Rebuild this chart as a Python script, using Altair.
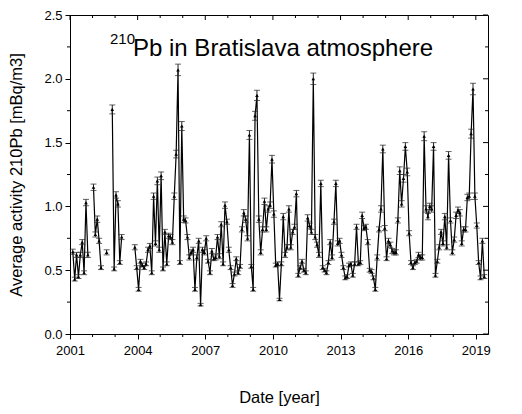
import altair as alt
import pandas as pd

# Monthly average 210Pb activity [mBq/m3] (None = no measurement); 2001 starts in February
act_2001 = [0.645, 0.43, 0.62, 0.45, 0.62, 0.72, 0.48, 1.03, 0.62, None, None]
act_2002 = [1.15, 0.78, 0.90, 0.73, 0.52, None, None, 0.64, None, None, 1.76, 0.51]
act_2003 = [1.09, 1.02, 0.56, 0.76, None, None, None, None, None, None, 0.68, 0.52]
act_2004 = [0.35, 0.57, 0.54, 0.52, 0.55, 0.66, 0.69, 0.48, 1.08, 0.71, 1.20, 0.66]
act_2005 = [1.24, 0.51, 0.80, 0.55, 0.77, 0.76, 0.72, 1.08, 1.41, 2.07, 0.56, 1.63]
act_2006 = [0.90, 0.89, 0.76, 0.60, 0.64, 0.66, 0.35, 0.60, 0.73, 0.23, 0.66, 0.64]
act_2007 = [0.75, 0.57, 0.48, 0.65, 0.59, 0.60, 0.76, 0.61, 0.86, 0.55, 1.01, 0.88]
act_2008 = [0.66, 0.52, 0.38, 0.47, 0.59, 0.48, 0.53, 0.82, 0.95, 0.90, 0.75, 1.56]
act_2009 = [0.53, 0.35, 1.71, 1.87, 0.90, 0.64, 0.82, 1.04, 0.82, 0.98, 1.01, 1.37]
act_2010 = [0.94, 0.54, 0.55, 0.27, 0.55, 0.92, 0.62, 0.68, 0.98, 0.68, 0.80, 0.84]
act_2011 = [1.10, 0.46, 0.52, 0.57, 0.50, 0.48, 0.91, 0.85, 0.80, 2.00, 0.76, 0.70]
act_2012 = [0.62, 1.18, 0.52, 0.50, 0.48, 0.56, 0.72, 0.60, 0.88, 1.18, 0.71, 0.73]
act_2013 = [0.62, 0.52, 0.44, 0.45, 0.54, 0.55, 0.46, 0.55, 0.84, 0.55, 0.56, 0.93]
act_2014 = [0.83, 0.84, 0.72, 0.50, 0.49, 0.44, 0.35, 0.60, 0.82, 0.98, 1.45, 0.83]
act_2015 = [0.59, 0.73, 0.70, 0.65, 0.64, 0.64, 0.89, 1.28, 1.02, 1.22, 1.47, 1.27]
act_2016 = [0.79, 0.56, 0.52, 0.56, 0.57, 0.62, 0.60, 0.60, 1.55, 0.98, 0.92, 1.00]
act_2017 = [0.98, 1.47, 0.46, 0.57, 0.68, 0.80, 0.71, 0.92, 0.68, 1.40, 0.89, 0.64]
act_2018 = [0.74, 0.93, 0.97, 0.95, 0.71, 0.82, 0.82, 1.07, 1.08, 1.57, 1.92, 1.08]
act_2019 = [0.85, 0.56, 0.44, 0.73, 0.45]

# Uncertainty (half-length of error bars)
err_2001 = [0.02, 0.015, 0.02, 0.015, 0.02, 0.02, 0.015, 0.025, 0.02, None, None]
err_2002 = [0.025, 0.02, 0.025, 0.02, 0.015, None, None, 0.02, None, None, 0.035, 0.015]
err_2003 = [0.025, 0.025, 0.015, 0.02, None, None, None, None, None, None, 0.02, 0.015]
err_2004 = [0.015, 0.015, 0.015, 0.015, 0.015, 0.02, 0.02, 0.015, 0.025, 0.02, 0.03, 0.02]
err_2005 = [0.03, 0.015, 0.02, 0.015, 0.02, 0.02, 0.02, 0.025, 0.03, 0.045, 0.015, 0.035]
err_2006 = [0.025, 0.02, 0.02, 0.02, 0.02, 0.02, 0.015, 0.02, 0.02, 0.01, 0.02, 0.02]
err_2007 = [0.02, 0.015, 0.015, 0.02, 0.015, 0.02, 0.02, 0.02, 0.02, 0.015, 0.025, 0.02]
err_2008 = [0.02, 0.015, 0.015, 0.015, 0.015, 0.015, 0.015, 0.02, 0.025, 0.025, 0.02, 0.035]
err_2009 = [0.015, 0.015, 0.035, 0.04, 0.025, 0.02, 0.02, 0.025, 0.02, 0.025, 0.025, 0.03]
err_2010 = [0.025, 0.015, 0.015, 0.01, 0.015, 0.025, 0.02, 0.02, 0.025, 0.02, 0.02, 0.02]
err_2011 = [0.025, 0.015, 0.015, 0.015, 0.015, 0.015, 0.025, 0.02, 0.02, 0.045, 0.02, 0.02]
err_2012 = [0.02, 0.025, 0.015, 0.015, 0.015, 0.015, 0.02, 0.02, 0.02, 0.025, 0.02, 0.02]
err_2013 = [0.02, 0.015, 0.015, 0.015, 0.015, 0.015, 0.015, 0.015, 0.02, 0.015, 0.015, 0.025]
err_2014 = [0.02, 0.02, 0.02, 0.015, 0.015, 0.015, 0.015, 0.02, 0.02, 0.025, 0.03, 0.02]
err_2015 = [0.015, 0.02, 0.02, 0.02, 0.02, 0.02, 0.02, 0.03, 0.025, 0.03, 0.03, 0.03]
err_2016 = [0.02, 0.015, 0.015, 0.015, 0.015, 0.02, 0.02, 0.02, 0.035, 0.025, 0.025, 0.025]
err_2017 = [0.025, 0.03, 0.015, 0.015, 0.02, 0.02, 0.02, 0.025, 0.02, 0.03, 0.02, 0.02]
err_2018 = [0.02, 0.025, 0.025, 0.025, 0.02, 0.02, 0.02, 0.025, 0.025, 0.035, 0.045, 0.025]
err_2019 = [0.02, 0.015, 0.015, 0.02, 0.015]

YEARS = list(range(2001, 2020))
ACT = [act_2001, act_2002, act_2003, act_2004, act_2005, act_2006, act_2007, act_2008,
       act_2009, act_2010, act_2011, act_2012, act_2013, act_2014, act_2015, act_2016,
       act_2017, act_2018, act_2019]
ERR = [err_2001, err_2002, err_2003, err_2004, err_2005, err_2006, err_2007, err_2008,
       err_2009, err_2010, err_2011, err_2012, err_2013, err_2014, err_2015, err_2016,
       err_2017, err_2018, err_2019]
FIRST_MONTH = {2001: 2}

MAJOR_YEARS = [2001, 2004, 2007, 2010, 2013, 2016, 2019]
MINOR_YEARS = [2002, 2003, 2005, 2006, 2008, 2009, 2011, 2012, 2014, 2015, 2017, 2018]
MAJOR_Y = [0.0, 0.5, 1.0, 1.5, 2.0, 2.5]
MINOR_Y = [0.25, 0.75, 1.25, 1.75, 2.25]

rows = []
seg = 0
prev_none = True
for yr, vals, errs in zip(YEARS, ACT, ERR):
    m0 = FIRST_MONTH.get(yr, 1)
    for k, (v, e) in enumerate(zip(vals, errs)):
        month = m0 + k
        if v is None:
            prev_none = True
            continue
        if prev_none:
            seg += 1
            prev_none = False
        rows.append({"t": yr + (month - 0.5) / 12.0, "v": v,
                     "lo": v - e, "hi": v + e, "seg": seg})
df = pd.DataFrame(rows)

W, H = 418, 319
FONT = "Liberation Sans"

xscale = alt.Scale(domain=[2001, 2019.54], nice=False, zero=False)
yscale = alt.Scale(domain=[0, 2.5], nice=False, zero=True)

X = alt.X("t:Q", scale=xscale,
          axis=alt.Axis(values=MAJOR_YEARS, format="d", title="Date [year]",
                        tickSize=5, labelPadding=5, titlePadding=32, grid=False,
                        labelFlush=False))
Y = alt.Y("v:Q", scale=yscale,
          axis=alt.Axis(values=MAJOR_Y, format=".1f",
                        title="Average activity 210Pb [mBq/m3]",
                        tickSize=5, labelPadding=3, titlePadding=19, grid=False,
                        labelFlush=False))

base = alt.Chart(df)
line = base.mark_line(color="black", strokeWidth=1.2).encode(x=X, y=Y, detail="seg:N")
bars = base.mark_rule(color="#222222", strokeWidth=1).encode(
    x=X, y=alt.Y("lo:Q", scale=yscale), y2="hi:Q")
cap_lo = base.mark_tick(orient="horizontal", size=6, thickness=1, color="#222222").encode(
    x=X, y=alt.Y("lo:Q", scale=yscale))
cap_hi = base.mark_tick(orient="horizontal", size=6, thickness=1, color="#222222").encode(
    x=X, y=alt.Y("hi:Q", scale=yscale))
pts = base.mark_point(shape="triangle-up", filled=True, size=13, color="black",
                      opacity=1).encode(x=X, y=Y)

# minor / mirrored ticks
minx = pd.DataFrame({"t": MINOR_YEARS})
majx = pd.DataFrame({"t": MAJOR_YEARS})
miny = pd.DataFrame({"v": MINOR_Y})
majy = pd.DataFrame({"v": MAJOR_Y})

tk = dict(color="black", strokeWidth=1)
bot_minor = alt.Chart(minx).mark_rule(**tk).encode(x=X, y=alt.value(H), y2=alt.value(H + 3))
top_minor = alt.Chart(minx).mark_rule(**tk).encode(x=X, y=alt.value(0), y2=alt.value(3))
top_major = alt.Chart(majx).mark_rule(**tk).encode(x=X, y=alt.value(0), y2=alt.value(5))
left_minor = alt.Chart(miny).mark_rule(**tk).encode(y=Y, x=alt.value(0), x2=alt.value(-3))
right_minor = alt.Chart(miny).mark_rule(**tk).encode(y=Y, x=alt.value(W), x2=alt.value(W - 3))
right_major = alt.Chart(majy).mark_rule(**tk).encode(y=Y, x=alt.value(W), x2=alt.value(W - 5))

one = pd.DataFrame({"a": [0]})
sup = alt.Chart(one).mark_text(text="210", fontSize=15, font=FONT, align="left",
                               baseline="alphabetic", color="black").encode(
    x=alt.value(40), y=alt.value(29))
ttl = alt.Chart(one).mark_text(text="Pb in Bratislava atmosphere", fontSize=24, font=FONT,
                               align="left", baseline="alphabetic", color="black").encode(
    x=alt.value(63), y=alt.value(41))

chart = alt.layer(line, bars, cap_lo, cap_hi, pts,
                  bot_minor, top_minor, top_major, left_minor, right_minor, right_major,
                  sup, ttl).properties(
    width=W, height=H,
    background="white",
    autosize=alt.AutoSizeParams(type="none"),
    padding={"left": 62, "top": 7, "right": 20, "bottom": 72},
).configure_view(stroke="black", strokeWidth=1).configure_axis(
    labelFont=FONT, titleFont=FONT, labelFontSize=13, titleFontSize=16.5,
    titleFontWeight="normal", labelColor="black", titleColor="black",
    domainColor="black", tickColor="black", domainWidth=1, tickWidth=1,
)

chart.save("out.html", embed_options={"renderer": "svg", "actions": False})
